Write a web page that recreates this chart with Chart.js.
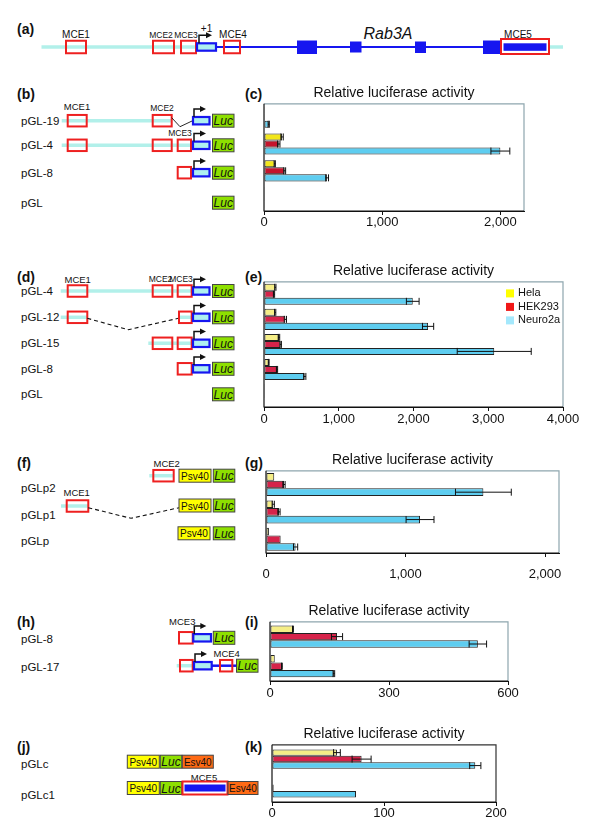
<!DOCTYPE html>
<html>
<head>
<meta charset="utf-8">
<title>Rab3A promoter constructs - relative luciferase activity</title>
<script src="https://cdn.jsdelivr.net/npm/chart.js@4.4.1/dist/chart.umd.min.js"></script>
<style>
  body { margin: 0; background: #fff; font-family: "Liberation Sans", Arial, sans-serif; }
  #page { position: relative; width: 600px; height: 835px; overflow: hidden; }
  #diagram { position: absolute; left: 0; top: 0; }
  canvas { position: absolute; }
</style>
</head>
<body>
<div id="page">
  <svg id="diagram" width="600" height="835"></svg>
  <canvas id="chartC"></canvas>
  <canvas id="chartE"></canvas>
  <canvas id="chartG"></canvas>
  <canvas id="chartI"></canvas>
  <canvas id="chartK"></canvas>
</div>
<script>
// cell lines (legend order, top bar of each group first)
const cellLines = ['Hela', 'HEK293', 'Neuro2a'];

// (c)
const cLabels = ['pGL-19', 'pGL-4', 'pGL-8', 'pGL'];
const cHela = [2, 153, 91, 2];
const cHek = [2, 125, 175, 2];
const cNeuro = [40, 2000, 534, 6];
const cHelaErr = [0, 10, 5, 0];
const cHekErr = [0, 10, 8, 0];
const cNeuroErr = [5, 80, 12, 0];
const cTicks = [0, 1000, 2000];

// (e)
const eLabels = ['pGL-4', 'pGL-12', 'pGL-15', 'pGL-8', 'pGL'];
const eHela = [152, 150, 200, 63, 3];
const eHek = [134, 286, 223, 174, 3];
const eNeuro = [1990, 2195, 3080, 545, 8];
const eHelaErr = [8, 8, 10, 5, 0];
const eHekErr = [8, 15, 10, 8, 0];
const eNeuroErr = [85, 75, 495, 15, 0];
const eTicks = [0, 1000, 2000, 3000, 4000];

// (g)
const gLabels = ['pGLp2', 'pGLp1', 'pGLp'];
const gHela = [59, 52, 21];
const gHek = [129, 93, 105];
const gNeuro = [1558, 1104, 212];
const gHelaErr = [0, 8, 0];
const gHekErr = [8, 8, 0];
const gNeuroErr = [200, 100, 15];
const gTicks = [0, 1000, 2000];

// (i)
const iLabels = ['pGL-8', 'pGL-17'];
const iHela = [58, 12];
const iHek = [169, 30];
const iNeuro = [524, 161];
const iHelaErr = [1, 0];
const iHekErr = [14, 1];
const iNeuroErr = [22, 2];
const iTicks = [0, 300, 600];

// (k)
const kLabels = ['pGLc', 'pGLc1'];
const kHela = [58, 0.6];
const kHek = [80, 1.5];
const kNeuro = [181.5, 75];
const kHelaErr = [3, 0];
const kHekErr = [8.5, 0];
const kNeuroErr = [5, 0];
const kTicks = [0, 100, 200];

const FONT = '"Liberation Sans", Arial, sans-serif';
const PAD = { left: 20, right: 34, top: 2 };
const TITLE_H = 14 * 1.2 + 2;
const AXIS_H = 30;

// frame around the plot area: black left/bottom, grey top/right
function framePlugin(topRightColor) {
    return {
        id: 'frame',
        afterDatasetsDraw(chart) {
            const a = chart.chartArea;
            const ctx = chart.ctx;
            ctx.save();
            ctx.lineWidth = 1.2;
            ctx.strokeStyle = topRightColor;
            ctx.beginPath();
            ctx.moveTo(a.left, a.top);
            ctx.lineTo(a.right, a.top);
            ctx.lineTo(a.right, a.bottom);
            ctx.stroke();
            ctx.strokeStyle = '#111';
            ctx.beginPath();
            ctx.moveTo(a.left, a.top);
            ctx.lineTo(a.left, a.bottom);
            ctx.lineTo(a.right, a.bottom);
            ctx.stroke();
            ctx.restore();
        }
    };
}

function errorBarPlugin(errors) {
    return {
        id: 'errorBars',
        afterDatasetsDraw(chart) {
            const ctx = chart.ctx;
            const xScale = chart.scales.x;
            ctx.save();
            ctx.strokeStyle = '#111';
            ctx.lineWidth = 1;
            chart.data.datasets.forEach((ds, i) => {
                const meta = chart.getDatasetMeta(i);
                meta.data.forEach((bar, j) => {
                    const err = errors[i][j];
                    if (!err) return;
                    const x1 = xScale.getPixelForValue(ds.data[j] - err);
                    const x2 = xScale.getPixelForValue(ds.data[j] + err);
                    const y = bar.y;
                    ctx.beginPath();
                    ctx.moveTo(x1, y);
                    ctx.lineTo(x2, y);
                    ctx.moveTo(x1, y - 3.5);
                    ctx.lineTo(x1, y + 3.5);
                    ctx.moveTo(x2, y - 3.5);
                    ctx.lineTo(x2, y + 3.5);
                    ctx.stroke();
                });
            });
            ctx.restore();
        }
    };
}

// legend drawn inside the plot area (panel e)
const insideLegend = {
    id: 'insideLegend',
    afterDraw(chart) {
        const a = chart.chartArea;
        const ctx = chart.ctx;
        const swatch = ['#ffff00', '#f01818', '#a4e8fc'];
        ctx.save();
        ctx.font = '11px ' + FONT;
        ctx.textBaseline = 'middle';
        chart.data.datasets.forEach((ds, i) => {
            const y = a.top + 11.6 + i * 13.5;
            const x = a.right - 57;
            ctx.fillStyle = swatch[i];
            ctx.fillRect(x, y - 4, 8, 8);
            ctx.fillStyle = '#111';
            ctx.fillText(ds.label, x + 12, y);
        });
        ctx.restore();
    }
};

function renderPanel(id, box, labels, series, errors, ticks, max, look) {
    const canvas = document.getElementById(id);
    canvas.width = box.width + PAD.left + PAD.right;
    canvas.height = Math.round(PAD.top + TITLE_H + box.height + AXIS_H);
    canvas.style.left = (box.left - PAD.left) + 'px';
    canvas.style.top = (box.top - PAD.top - TITLE_H) + 'px';

    const colors = [look.yellow, look.red, '#5ecdf0'];
    const plugins = [errorBarPlugin(errors), framePlugin(look.frame)];
    if (look.legend) plugins.push(insideLegend);

    return new Chart(canvas.getContext('2d'), {
        type: 'bar',
        data: {
            labels: labels,
            datasets: series.map((data, i) => ({
                label: cellLines[i],
                data: data,
                backgroundColor: colors[i],
                borderColor: '#222',
                borderWidth: 1,
                borderSkipped: false,
                barPercentage: 1.0,
                categoryPercentage: look.catPct
            }))
        },
        options: {
            indexAxis: 'y',
            responsive: false,
            animation: false,
            layout: { padding: { left: PAD.left, right: PAD.right, top: PAD.top, bottom: 0 } },
            plugins: {
                legend: { display: false },
                tooltip: { enabled: false },
                title: {
                    display: true,
                    text: 'Relative luciferase activity',
                    color: '#111',
                    font: { family: FONT, size: 14, weight: 'normal' },
                    padding: { top: 0, bottom: 2 }
                }
            },
            scales: {
                y: { display: false },
                x: {
                    min: 0,
                    max: max,
                    afterFit: (scale) => { scale.height = AXIS_H; },
                    afterBuildTicks: (scale) => { scale.ticks = ticks.map(v => ({ value: v })); },
                    grid: { drawOnChartArea: false, color: '#111', tickLength: 4 },
                    border: { display: true, color: '#111' },
                    ticks: {
                        color: '#111',
                        padding: look.tickPad,
                        maxRotation: 0,
                        font: { family: FONT, size: 13 }
                    }
                }
            }
        },
        plugins: plugins
    });
}

const brightLook = { yellow: '#f2e61a', red: '#c4142c', frame: '#8ea6ae', catPct: 0.79, tickPad: 0 };
const paleLook = { yellow: '#f5ee86', red: '#d6234a', frame: '#8ea6ae' };

renderPanel('chartC', { left: 264, top: 104, width: 260, height: 107 }, cLabels,
    [cHela, cHek, cNeuro], [cHelaErr, cHekErr, cNeuroErr], cTicks, 2200, brightLook);
renderPanel('chartE', { left: 264, top: 282, width: 299, height: 125 }, eLabels,
    [eHela, eHek, eNeuro], [eHelaErr, eHekErr, eNeuroErr], eTicks, 4000,
    Object.assign({}, paleLook, { catPct: 0.84, tickPad: 1, legend: true }));
renderPanel('chartG', { left: 266, top: 471, width: 293, height: 82 }, gLabels,
    [gHela, gHek, gNeuro], [gHelaErr, gHekErr, gNeuroErr], gTicks, 2100,
    Object.assign({}, paleLook, { catPct: 0.84, tickPad: 10 }));
renderPanel('chartI', { left: 270, top: 622, width: 238, height: 59 }, iLabels,
    [iHela, iHek, iNeuro], [iHelaErr, iHekErr, iNeuroErr], iTicks, 600,
    Object.assign({}, paleLook, { catPct: 0.75, tickPad: 1 }));
renderPanel('chartK', { left: 272, top: 745, width: 224, height: 57 }, kLabels,
    [kHela, kHek, kNeuro], [kHelaErr, kHekErr, kNeuroErr], kTicks, 200,
    Object.assign({}, paleLook, { catPct: 0.68, tickPad: 0, frame: '#333' }));

// ---- construct diagrams (schematics, drawn as svg) ----
const svg = document.getElementById('diagram');
const NS = 'http://www.w3.org/2000/svg';
const RED = '#ee2020';
const BLUE = '#1616f0';
const CYAN = '#b2f0ea';

function add(tag, attrs, text) {
    const el = document.createElementNS(NS, tag);
    for (const k in attrs) el.setAttribute(k, attrs[k]);
    if (text !== undefined) el.textContent = text;
    svg.appendChild(el);
    return el;
}

function line(x1, y1, x2, y2, color, width, dash) {
    const attrs = { x1, y1, x2, y2, stroke: color, 'stroke-width': width };
    if (dash) attrs['stroke-dasharray'] = dash;
    add('line', attrs);
}

function text(x, y, str, size, extra) {
    add('text', Object.assign({
        x, y, 'font-size': size, 'font-family': FONT, fill: '#111',
        'dominant-baseline': 'central'
    }, extra || {}), str);
}

function panelLabel(x, y, str) { text(x, y, str, 14, { 'font-weight': 'bold' }); }
function rowLabel(y, str) { text(21, y, str, 11.5); }
function mceLabel(x, y, str, size) { text(x, y, str, size || 9.5, { 'text-anchor': 'middle' }); }
function cyanLine(x1, x2, y) { line(x1, y, x2, y, CYAN, 3.5); }

function mce(x1, x2, y, h) {
    h = h || 11.5;
    add('rect', { x: x1, y: y - h / 2, width: x2 - x1, height: h, fill: 'none', stroke: RED, 'stroke-width': 2 });
}

function exon(x1, x2, y) {
    add('rect', { x: x1, y: y - 3.7, width: x2 - x1, height: 7.4, fill: '#aef0f0', stroke: BLUE, 'stroke-width': 2.2 });
}

function tssArrow(x, y, len) {
    const top = y - 8;
    add('polyline', { points: `${x},${y} ${x},${top} ${x + len - 4},${top}`, fill: 'none', stroke: '#111', 'stroke-width': 1.5 });
    add('polygon', { points: `${x + len - 5},${top - 3} ${x + len + 1},${top} ${x + len - 5},${top + 3}`, fill: '#111' });
}

function block(x, y, w, fill, label, italic, size) {
    add('rect', { x: x, y: y - 6.5, width: w, height: 13, fill: fill, stroke: '#444', 'stroke-width': 1 });
    text(x + w / 2, y + 0.5, label, size, { 'text-anchor': 'middle', 'font-style': italic ? 'italic' : 'normal' });
}

function luc(x, y) { block(x, y, 21.5, '#8ee000', 'Luc', true, 12); }
function psv40(x, y) { block(x, y, 32, '#ffff00', 'Psv40', false, 10); }
function esv40(x, y, w) { block(x, y, w || 31, '#ff6a14', 'Esv40', false, 10); }

function promoterUnit(y) {
    exon(193, 209.5, y);
    tssArrow(194, y - 3.7, 11);
    luc(212.5, y);
}

// (a) gene map
panelLabel(17, 29, '(a)');
cyanLine(41.5, 197, 47);
cyanLine(549, 563, 47);
line(216, 47, 501, 47, BLUE, 2.2);
mce(66, 86, 47, 12.5);
mce(153, 174, 47, 12.5);
mce(181, 196, 47, 12.5);
mce(224, 240, 47, 12.5);
exon(197, 216, 47);
tssArrow(199, 43.3, 12);
text(206.5, 28, '+1', 10, { 'text-anchor': 'middle' });
mceLabel(76, 34, 'MCE1', 10);
mceLabel(161, 34.5, 'MCE2', 8.5);
mceLabel(186, 34.5, 'MCE3', 8.5);
mceLabel(233, 34, 'MCE4', 10);
mceLabel(518, 34, 'MCE5', 10);
add('rect', { x: 297, y: 40.5, width: 20, height: 13.5, fill: BLUE });
add('rect', { x: 350, y: 41.5, width: 11.5, height: 11, fill: BLUE });
add('rect', { x: 415, y: 41.5, width: 11, height: 11.5, fill: BLUE });
add('rect', { x: 483, y: 40.5, width: 18.5, height: 13.5, fill: BLUE });
add('rect', { x: 501, y: 39, width: 48, height: 15, fill: '#fff', stroke: RED, 'stroke-width': 2 });
add('rect', { x: 503.5, y: 43.3, width: 43, height: 7.5, fill: BLUE });
text(388, 33, 'Rab3A', 16, { 'text-anchor': 'middle', 'font-style': 'italic' });

// (b) deletion constructs
panelLabel(17, 94, '(b)');
panelLabel(245, 94, '(c)');
rowLabel(120.7, 'pGL-19');
cyanLine(61.7, 172, 120.7);
mce(67.7, 86.7, 120.7);
mce(152.7, 171.7, 120.7);
add('polyline', { points: '171.7,117.7 180,126.7 192.7,120.7', fill: 'none', stroke: '#111', 'stroke-width': 0.9 });
promoterUnit(120.7);
mceLabel(77, 106.7, 'MCE1', 9.5);
mceLabel(162, 108, 'MCE2', 8.5);

rowLabel(145.3, 'pGL-4');
cyanLine(61.7, 192, 145.3);
mce(67.7, 86.7, 145.3);
mce(152.7, 171.7, 145.3);
mce(177.7, 191, 145.3);
promoterUnit(145.3);
mceLabel(180, 133.3, 'MCE3', 8.5);

rowLabel(172.7, 'pGL-8');
mce(177.7, 191, 172.7);
promoterUnit(172.7);

rowLabel(202.7, 'pGL');
luc(212.5, 202.7);

// (d)
panelLabel(17, 277, '(d)');
panelLabel(245, 277, '(e)');
mceLabel(77.7, 279, 'MCE1', 9.5);
mceLabel(160.5, 279, 'MCE2', 8.5);
mceLabel(181, 279, 'MCE3', 8.5);

rowLabel(291, 'pGL-4');
cyanLine(60.7, 192, 291);
mce(67.7, 87.3, 291);
mce(152.7, 172.3, 291);
mce(177.7, 191.7, 291);
promoterUnit(291);

rowLabel(317.3, 'pGL-12');
cyanLine(60.7, 87, 317.3);
cyanLine(178, 192, 317.3);
mce(67.7, 87.3, 317.3);
add('polyline', { points: '87.3,318.3 128.3,329.7 178.3,318.3', fill: 'none', stroke: '#111', 'stroke-width': 1.1, 'stroke-dasharray': '4 3' });
mce(179, 191.7, 317.3);
promoterUnit(317.3);

rowLabel(343.3, 'pGL-15');
cyanLine(148.3, 192, 343.3);
mce(152.7, 172.3, 343.3);
mce(177.7, 191.7, 343.3);
promoterUnit(343.3);

rowLabel(368.8, 'pGL-8');
mce(177.7, 191.7, 368.8);
promoterUnit(368.8);

rowLabel(394.3, 'pGL');
luc(212.5, 394.3);

// (f) heterologous promoter constructs
panelLabel(17, 463.3, '(f)');
panelLabel(245, 463.3, '(g)');
mceLabel(166.7, 463.3, 'MCE2', 9.5);
rowLabel(487.7, 'pGLp2');
cyanLine(149.3, 173.3, 475.7);
mce(153.3, 173.7, 475.7);
psv40(179, 475.7);
luc(213.3, 475.7);

mceLabel(76.7, 492, 'MCE1', 9.5);
rowLabel(515, 'pGLp1');
cyanLine(61, 88, 506);
mce(66.7, 88.3, 506);
add('polyline', { points: '88.3,507.7 131,518.3 179,507.7', fill: 'none', stroke: '#111', 'stroke-width': 1.1, 'stroke-dasharray': '4 3' });
psv40(179, 505.5);
luc(213.3, 505.5);

rowLabel(541, 'pGLp');
psv40(178, 533.3);
luc(213.3, 533.3);

// (h)
panelLabel(17, 622, '(h)');
panelLabel(245, 622, '(i)');
mceLabel(182.3, 621, 'MCE3', 9.5);
rowLabel(639, 'pGL-8');
mce(179, 192.7, 637.8);
exon(193.3, 211, 637.8);
tssArrow(194.3, 634.1, 11);
luc(213.3, 637.8);

mceLabel(226.7, 653.3, 'MCE4', 9.5);
rowLabel(667.3, 'pGL-17');
cyanLine(176.7, 192, 665.7);
line(211, 665.7, 236, 665.7, BLUE, 2.5);
mce(180, 192.7, 665.7);
exon(194, 211.7, 665.7);
tssArrow(195, 662, 11);
mce(220, 232.3, 665.7);
luc(236.5, 665.7);

// (j)
panelLabel(17, 747.3, '(j)');
panelLabel(245, 747.3, '(k)');
rowLabel(764, 'pGLc');
psv40(127.3, 761.7);
luc(160.3, 761.7);
esv40(182.3, 761.7);

mceLabel(204, 777, 'MCE5', 9.5);
rowLabel(795, 'pGLc1');
psv40(127.3, 788);
luc(160.3, 788);
add('rect', { x: 182.5, y: 781.5, width: 45, height: 13, fill: '#fff', stroke: RED, 'stroke-width': 2 });
add('rect', { x: 184.5, y: 784.5, width: 41, height: 7, fill: BLUE });
esv40(228, 788, 30);
</script>
</body>
</html>
